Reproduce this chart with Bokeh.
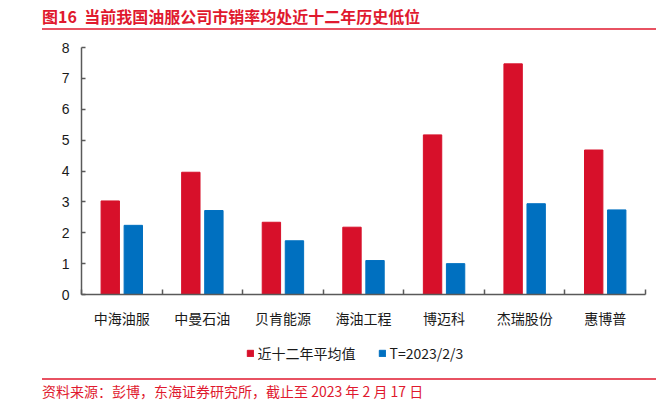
from bokeh.plotting import figure
from bokeh.layouts import column
from bokeh.models import (ColumnDataSource, FixedTicker, Legend, LegendItem, Range1d)
from bokeh.core.properties import value
from bokeh.transform import dodge
from bokeh.embed import file_html
from bokeh.resources import INLINE

# ---- data ----
companies = ["中海油服", "中曼石油", "贝肯能源", "海油工程", "博迈科", "杰瑞股份", "惠博普"]
avg_12y = [3.03, 3.96, 2.34, 2.18, 5.17, 7.47, 4.68]
current = [2.24, 2.72, 1.74, 1.10, 1.00, 2.94, 2.74]
y_ticks = [0, 1, 2, 3, 4, 5, 6, 7, 8]
series_names = ["近十二年平均值", "T=2023/2/3"]
title_text = "图16\u00a0\u00a0当前我国油服公司市销率均处近十二年历史低位"
source_text = "资料来源：彭博，东海证券研究所，截止至 2023 年 2 月 17 日"

# ---- style ----
RED = "#D7102A"
BLUE = "#0070C0"
TXT_RED = "#E0192E"
AXIS = "#595959"
CJK = "Noto Sans CJK SC"
W = 656
H_HEAD, H_MAIN, H_FOOT = 36, 294, 76


def blank(h):
    f = figure(width=W, height=h, output_backend="svg", toolbar_location=None,
               x_range=Range1d(0, W), y_range=Range1d(h, 0),
               x_axis_type=None, y_axis_type=None, min_border=0)
    f.outline_line_color = None
    f.grid.grid_line_color = None
    f.frame_align = False
    return f


# ---- header: title + red rule ----
head = blank(H_HEAD)
head.text(x=[41.5], y=[15], text=[title_text], text_font=value(CJK),
          text_font_style="bold", text_font_size="16px", text_color=TXT_RED,
          text_baseline="middle", text_align="left")
head.segment(x0=[41.5], y0=[28.5], x1=[W], y1=[28.5], line_color=TXT_RED,
             line_width=1.5)

# ---- main chart ----
n = len(companies)
centers = [i + 0.5 for i in range(n)]
bounds = list(range(n + 1))
src = ColumnDataSource(dict(x=centers, avg=avg_12y, cur=current, name=companies))

p = figure(width=W, height=H_MAIN, output_backend="svg", toolbar_location=None,
           x_range=Range1d(0, n), y_range=Range1d(0, 8),
           min_border_left=81, min_border_right=11, min_border_top=11,
           min_border_bottom=36)
p.outline_line_color = None
p.grid.grid_line_color = None
p.frame_align = False

r1 = p.vbar(x=dodge("x", -0.143), top="avg", width=0.228, source=src,
            fill_color=RED, line_color=RED)
r2 = p.vbar(x=dodge("x", 0.143), top="cur", width=0.228, source=src,
            fill_color=BLUE, line_color=BLUE)

xa = p.xaxis[0]
xa.ticker = FixedTicker(ticks=centers, minor_ticks=bounds)
xa.major_label_overrides = {c: name for c, name in zip(centers, companies)}
xa.major_tick_in = 0
xa.major_tick_out = 0
xa.minor_tick_in = 5
xa.minor_tick_out = 0
xa.minor_tick_line_color = AXIS
xa.minor_tick_line_width = 1.5
xa.axis_line_color = AXIS
xa.axis_line_width = 1.5
xa.major_label_text_font = CJK
xa.major_label_text_font_size = "14px"
xa.major_label_text_color = "#1a1a1a"
xa.major_label_standoff = 13

ya = p.yaxis[0]
ya.ticker = FixedTicker(ticks=y_ticks)
ya.major_tick_in = 4
ya.major_tick_out = 0
ya.minor_tick_line_color = None
ya.major_tick_line_color = AXIS
ya.major_tick_line_width = 1.5
ya.axis_line_color = AXIS
ya.axis_line_width = 1.5
ya.major_label_text_font = "Liberation Sans"
ya.major_label_text_font_size = "14px"
ya.major_label_text_color = "#1a1a1a"
ya.major_label_standoff = 12

# ---- footer: legend, red rule, source ----
foot = blank(H_FOOT)
# legend swatch renderers (hidden; only their styles are used by the legend)
swatch = ColumnDataSource(dict(x=[-1000], top=[-1000], bottom=[-1001]))
l1 = foot.vbar(x="x", top="top", bottom="bottom", width=1, source=swatch,
               fill_color=RED, line_color=RED, visible=False)
l2 = foot.vbar(x="x", top="top", bottom="bottom", width=1, source=swatch,
               fill_color=BLUE, line_color=BLUE, visible=False)
legend = Legend(items=[LegendItem(label=series_names[0], renderers=[l1]),
                       LegendItem(label=series_names[1], renderers=[l2])],
                orientation="horizontal", location=(245.5, 43),
                glyph_width=8, glyph_height=8, label_standoff=4, spacing=22,
                padding=0, margin=0, border_line_alpha=0,
                background_fill_alpha=0, inactive_fill_alpha=0,
                label_text_font=CJK, label_text_font_size="14px",
                label_text_color="#1a1a1a", label_height=8)
foot.add_layout(legend)
foot.segment(x0=[41.5], y0=[48.5], x1=[W], y1=[48.5], line_color=TXT_RED,
             line_width=1.5)
foot.text(x=[41.5], y=[60.5], text=[source_text], text_font=value(CJK),
          text_font_size="14px", text_color=TXT_RED, text_baseline="middle",
          text_align="left")

layout = column(head, p, foot, spacing=0)
open("out.html", "w").write(file_html(layout, INLINE))
